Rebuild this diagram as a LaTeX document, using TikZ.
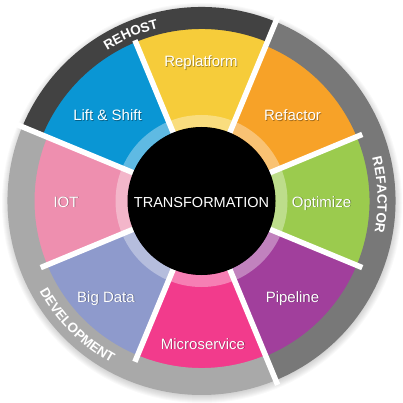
\documentclass[tikz,border=0pt]{standalone}
\usepackage{fontspec}
\setmainfont{Liberation Sans}
\usetikzlibrary{decorations.text}

\definecolor{cRehost}{HTML}{424242}
\definecolor{cRefactorRing}{HTML}{787878}
\definecolor{cDevRing}{HTML}{A9A9A9}
\definecolor{cReplatform}{HTML}{F6CC3A}
\definecolor{cRefactor}{HTML}{F7A228}
\definecolor{cOptimize}{HTML}{9BCB4E}
\definecolor{cPipeline}{HTML}{A13F9C}
\definecolor{cMicro}{HTML}{F23B8C}
\definecolor{cBigData}{HTML}{8E9ACC}
\definecolor{cIot}{HTML}{EE8FAF}
\definecolor{cLift}{HTML}{0A96D4}

\newcommand\ringfont{\bfseries\fontsize{13.5}{14}\selectfont}

\tikzset{
  seglabel/.style={text=white, font=\fontsize{15}{17}\selectfont, anchor=base, inner sep=0pt},
  segshadow/.style={text=black, text opacity=0.35, font=\fontsize{15}{17}\selectfont, anchor=base, inner sep=0pt},
  centerlabel/.style={text=white, font=\fontsize{14.5}{16}\selectfont, anchor=base, inner sep=0pt},
  gapline/.style={white, line width=5.5pt},
  ringtext/.style={decorate, decoration={text along path, text align=center, text color=white}}
}

% annular sector: colour, start angle, end angle, inner radius, outer radius
\newcommand\ringsector[5]{%
  \fill[#1] (#2:#5) arc[start angle=#2, end angle=#3, radius=#5]
    -- (#3:#4) arc[start angle=#3, end angle=#2, radius=#4] -- cycle;}
% pie wedge: colour, start angle, end angle, radius
\newcommand\piewedge[4]{%
  \fill[#1] (0,0) -- (#2:#4) arc[start angle=#2, end angle=#3, radius=#4] -- cycle;}

\begin{document}
\begin{tikzpicture}[x=1pt,y=1pt]
\useasboundingbox (0,0) rectangle (403,402);

\begin{scope}[shift={(201.5,201)}]
  % soft shadow around the outer ring
  \foreach \k in {1,...,8}
    \fill[black, opacity=0.025] (0.5,-2) circle (192+\k);

  % coloured wedges
  \piewedge{cReplatform}{67.5}{112.5}{173}
  \piewedge{cLift}{112.5}{157.5}{173}
  \piewedge{cIot}{157.5}{202.5}{168}
  \piewedge{cBigData}{202.5}{247.5}{168}
  \piewedge{cMicro}{247.5}{292.5}{168}
  \piewedge{cPipeline}{-67.5}{-22.5}{169}
  \piewedge{cOptimize}{-22.5}{22.5}{169}
  \piewedge{cRefactor}{22.5}{67.5}{169}

  % outer group rings
  \ringsector{cRehost}{67.5}{157.5}{172}{194}
  \ringsector{cRefactorRing}{-67.5}{67.5}{168}{194}
  \ringsector{cDevRing}{157.5}{292.5}{167}{194}

  % white separators
  \foreach \a in {22.5,112.5,202.5,247.5,337.5}
    \draw[gapline] (0,0) -- (\a:174);
  \foreach \a in {67.5,157.5,292.5}
    \draw[gapline] (0,0) -- (\a:199);

  % translucent band and black hub
  \fill[white, opacity=0.35, even odd rule] (0,0) circle (86) (0,0) circle (74);
  \fill[black] (0,0) circle (74);

  % curved group titles
  \path[ringtext, decoration={text={|\ringfont|REHOST}}]
    (140:178) arc[start angle=140, end angle=86, radius=178];
  \path[ringtext, decoration={text={|\ringfont|REFACTOR}}]
    (32:176) arc[start angle=32, end angle=-28, radius=176];
  \path[ringtext, decoration={text={|\ringfont|DEVELOPMENT}}]
    (190:185.5) arc[start angle=190, end angle=260, radius=185.5];
\end{scope}

% segment labels with drop shadow
\foreach \nm/\x/\y/\t in {replat/201/335/Replatform, refac/292.5/281/Refactor,
    optim/321.5/195/Optimize, pipe/292.5/100/Pipeline, micro/203/53/Microservice,
    bigdata/106/100/Big Data, iot/66/195/IOT, lift/107.5/281/Lift \& Shift}{
  \node[segshadow] (\nm-sh) at (\x+0.8,\y-0.9) {\t};
  \node[seglabel] (\nm) at (\x,\y) {\t};
}

\node[centerlabel] (hub) at (201.5,195) {TRANSFORMATION};
\end{tikzpicture}
\end{document}
